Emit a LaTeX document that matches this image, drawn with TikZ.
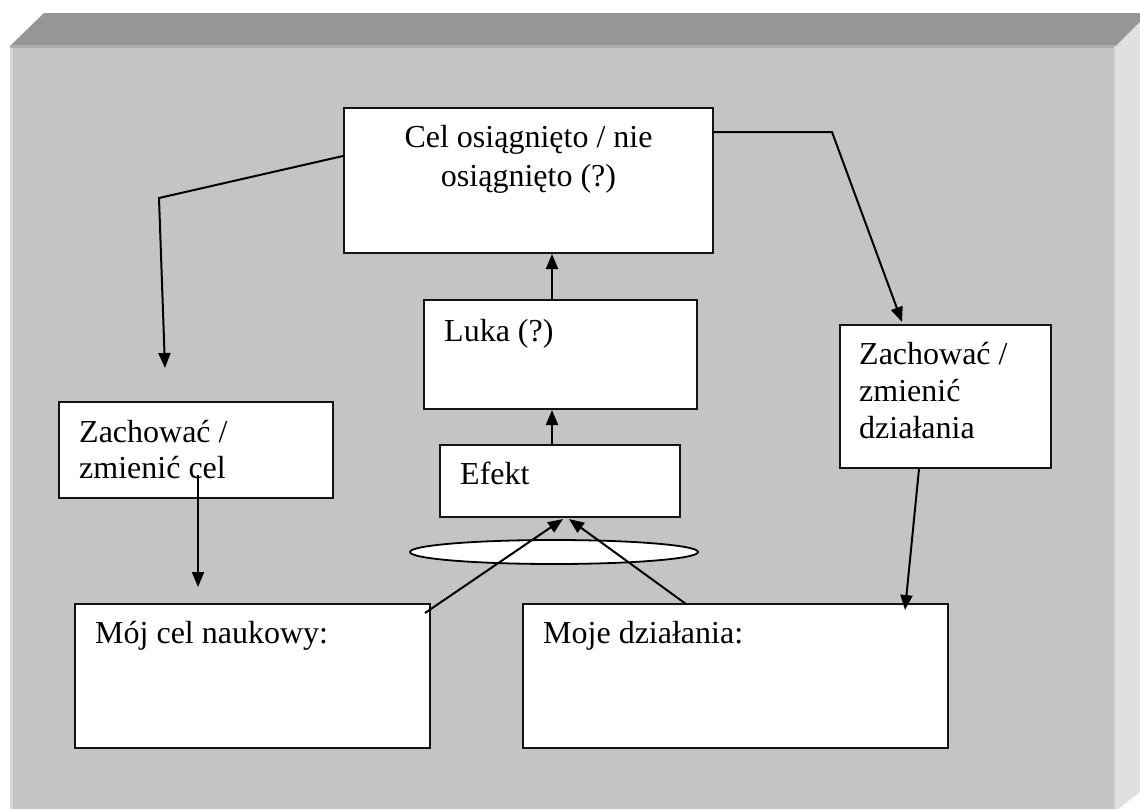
\documentclass[tikz,border=0pt]{standalone}
\usepackage{fontspec}
\setmainfont{Liberation Serif}
\usetikzlibrary{shapes.geometric,arrows.meta,calc}
\definecolor{topface}{RGB}{150,150,150}
\definecolor{frontface}{RGB}{196,196,196}
\definecolor{sideface}{RGB}{224,224,224}
\definecolor{edgelight}{RGB}{214,214,214}
\definecolor{edgemid}{RGB}{172,172,172}
\definecolor{boxline}{RGB}{20,20,20}
\begin{document}
\begin{tikzpicture}[x=1pt,y=-1pt,
  box/.style={draw=boxline, line width=2pt, fill=white, rectangle, inner sep=0pt, anchor=north west},
  txt/.style={inner sep=0pt, font=\fontsize{32}{37}\selectfont},
  conn/.style={draw=black, line width=2pt, -{Triangle[length=15pt,width=12pt]}}]
\useasboundingbox (0,0) rectangle (1140,809);
% bevelled panel
\fill[white] (0,0) rectangle (1140,809);
\fill[topface] (44,13) -- (1140,13) -- (1140,22) -- (1116,46) -- (10,46) -- cycle;
\fill[sideface] (1116,46) -- (1140,22) -- (1140,792) -- (1118,809) -- (1116,809) -- cycle;
\fill[frontface] (10,46) rectangle (1116,809);
\fill[edgelight] (10,46) rectangle (12.5,809);
\fill[edgemid] (10,45) rectangle (1116,47.5);
\fill[edgelight] (1113.5,46) rectangle (1116,809);
% boxes
\node[box, minimum width=369pt, minimum height=145pt] (res) at (343,107) {};
\node[box, minimum width=273pt, minimum height=109pt] (luka) at (423,299) {};
\node[box, minimum width=240pt, minimum height=72pt] (efekt) at (439,444) {};
\node[box, minimum width=274pt, minimum height=96pt] (keepgoal) at (58,401) {};
\node[box, minimum width=211pt, minimum height=143pt] (keepact) at (839,324) {};
\node[box, minimum width=355pt, minimum height=144pt] (goal) at (74,603) {};
\node[box, minimum width=425pt, minimum height=144pt] (acts) at (522,603) {};
\node[ellipse, draw=black, line width=1.8pt, fill=white, minimum width=288pt, minimum height=24pt, inner sep=0pt] (ring) at (554,552) {};
% texts
\node[txt, font=\fontsize{32}{39}\selectfont, anchor=base] (restxt) at ($(res.north)+(0,40)$)
  {\begin{tabular}[t]{@{}c@{}}Cel osiągnięto / nie\\osiągnięto (?)\end{tabular}};
\node[txt, anchor=base west] (lukatxt) at ($(luka.north west)+(21,42)$) {Luka (?)};
\node[txt, anchor=base west] (efekttxt) at ($(efekt.north west)+(21,40)$) {Efekt};
\node[txt, font=\fontsize{32}{36}\selectfont, anchor=base west] (keepgoaltxt) at ($(keepgoal.north west)+(21,41)$)
  {\begin{tabular}[t]{@{}l@{}}Zachować /\\zmienić cel\end{tabular}};
\node[txt, anchor=base west] (keepacttxt) at ($(keepact.north west)+(20,40)$)
  {\begin{tabular}[t]{@{}l@{}}Zachować /\\zmienić\\działania\end{tabular}};
\node[txt, anchor=base west] (goaltxt) at ($(goal.north west)+(21,40)$) {Mój cel naukowy:};
\node[txt, anchor=base west] (actstxt) at ($(acts.north west)+(21,40)$) {Moje działania:};
% connectors
\coordinate (axis) at (552,0);
\coordinate (lbend) at (159,198);
\coordinate (rbend) at (832,132);
\draw[conn] (efekt.north -| axis) -- (luka.south -| axis);
\draw[conn] (luka.north -| axis) -- (res.south -| axis);
\draw[conn] ($(res.north west)+(0,49)$) -- (lbend) -- ($(keepgoal.north west)+(107,-33)$);
\draw[conn] ($(res.north east)+(0,25)$) -- (rbend) -- ($(keepact.north west)+(63,-2)$);
\draw[conn] ($(keepgoal.north west)+(140,74)$) -- ($(goal.north west)+(124,-16)$);
\draw[conn] ($(keepact.south west)+(80,0)$) -- ($(acts.north west)+(383,7)$);
\draw[conn] ($(goal.north east)+(-6,10)$) -- ($(efekt.south)+(3,1)$);
\draw[conn] ($(acts.north west)+(164,1)$) -- ($(efekt.south)+(9,1)$);
\end{tikzpicture}
\end{document}
